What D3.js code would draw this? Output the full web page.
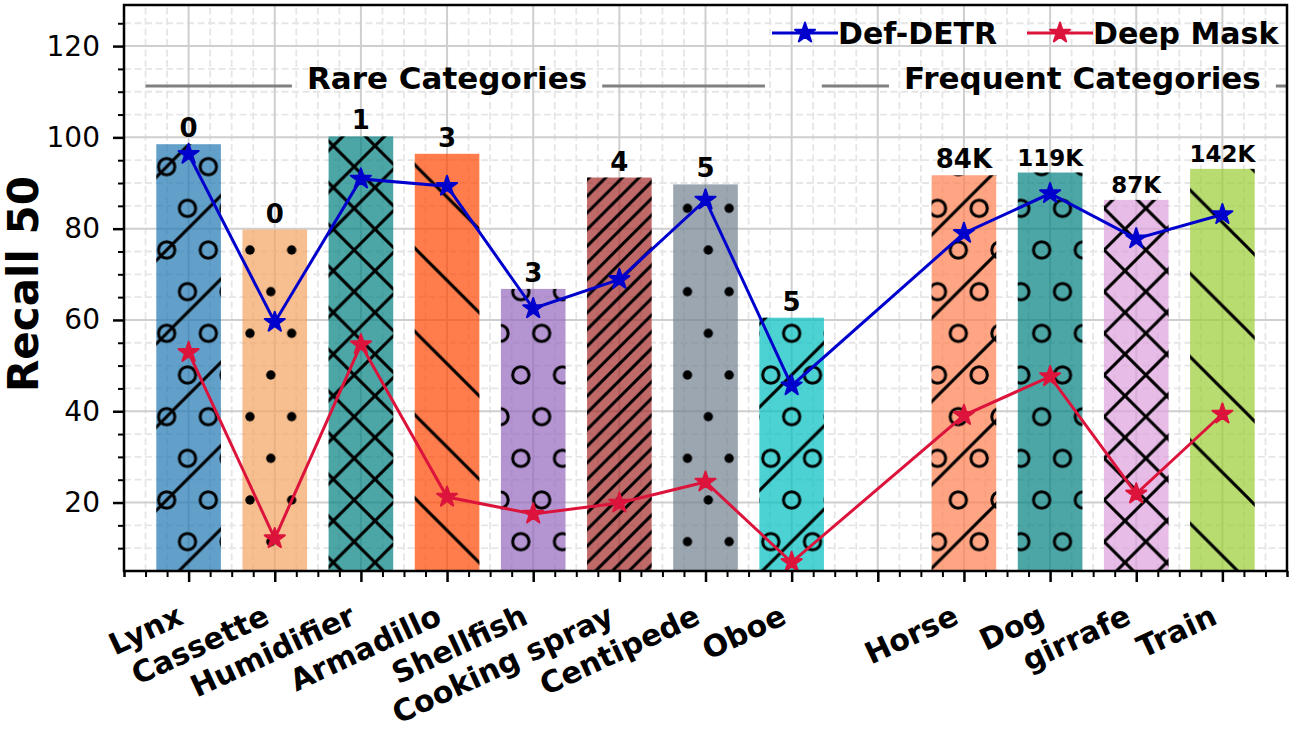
<!DOCTYPE html>
<html><head><meta charset="utf-8">
<script src="https://cdn.jsdelivr.net/npm/d3@7"></script>
<style>
body{margin:0;background:#fff;}
svg{display:block;font-family:"DejaVu Sans",sans-serif;}
</style></head><body>
<svg id="chart" width="1301" height="732"></svg>
<script>
// ---------------- data ----------------
const categories = ["Lynx","Cassette","Humidifier","Armadillo","Shellfish","Cooking spray","Centipede","Oboe","Horse","Dog","girrafe","Train"];
const barValues  = [98.5, 79.8, 100.2, 96.4, 66.8, 91.2, 89.7, 60.5, 91.7, 92.3, 86.3, 93.1];
const defDetr    = [96.3, 59.5, 90.9, 89.3, 62.5, 68.9, 86.3, 45.6, 79.0, 87.7, 77.8, 83.1];
const deepMask   = [52.9, 12.1, 54.6, 21.2, 17.5, 19.9, 24.5, 6.9, 39.1, 47.6, 21.9, 39.4];
const countLabels = ["0","0","1","3","3","4","5","5","84K","119K","87K","142K"];
const seriesNames = ["Def-DETR","Deep Mask"];
const groupNames = ["Rare Categories","Frequent Categories"];
const groupSizes = [8, 4];
const yTickValues = [20, 40, 60, 80, 100, 120];
const yLabel = "Recall 50";

// ---------------- styles ----------------
const barColors = ["#1f77b4","#F4A460","#008080","#FF4500","#9467bd","#A52A2A","#708090","#00BFBF","#FF7F50","#008080","#DDA0DD","#9ACD32"];
const barHatches = ["o/",".","x","\\","o","f","." ,"o/","o/","o","x","\\"];
const countFont = [26,26,26,26,26,26,26,26,26,23,23,23];
const seriesColors = ["#0000CD","#DC143C"];

// positions: groups separated by one empty slot
const pos = [];
groupSizes.forEach((n, g) => { for (let k = 0; k < n; k++) pos.push(pos.length + g); });

const W = 1301, H = 732;
const L = 124, R = 1287, T = 5, B = 571;
const x = d3.scaleLinear().domain([-0.75, 12.75]).range([L, R]);
const y = d3.scaleLinear().domain([5, 129]).range([B, T]);
const bw = x(0.75) - x(0);

const svg = d3.select("#chart");
svg.append("rect").attr("width", W).attr("height", H).attr("fill", "#fff");

// ---------------- hatch patterns ----------------
const defs = svg.append("defs");
const P = 83.333, S2 = 41.667;
function hatchPattern(id, h) {
  const p = defs.append("pattern").attr("id", id).attr("patternUnits", "userSpaceOnUse")
    .attr("x", 0).attr("y", 0).attr("width", P).attr("height", P);
  const g = p.append("g").attr("stroke", "#000").attr("stroke-width", 3).attr("fill", "none");
  const lattice = [];
  [0, P].forEach(yy => [0, S2, P].forEach(xx => lattice.push([xx, yy])));
  [S2 / 2, S2 * 1.5].forEach(xx => lattice.push([xx, S2]));
  if (h.includes("o")) lattice.forEach(([cx, cy]) => g.append("circle").attr("cx", cx).attr("cy", cy).attr("r", 8.2));
  if (h.includes(".")) lattice.forEach(([cx, cy]) => g.append("circle").attr("cx", cx).attr("cy", cy).attr("r", 4.7).attr("fill", "#000").attr("stroke", "none"));
  const fwd = (sp, ph) => { for (let c = ph - sp; c <= 2 * P + sp; c += sp) g.append("line").attr("x1", c + 10).attr("y1", -10).attr("x2", -10).attr("y2", c + 10); };
  const back = (sp, ph) => { for (let c = -P - sp + ph; c <= P + sp; c += sp) g.append("line").attr("x1", -10).attr("y1", c - 10).attr("x2", P + 10).attr("y2", c + P + 10); };
  if (h.includes("/")) fwd(P, 0);
  if (h.includes("f")) fwd(P / 5, 0);
  if (h.includes("\\")) back(P, 0);
  if (h.includes("x")) { fwd(S2, S2 / 2); back(S2, S2 / 2); }
}
barHatches.forEach((h, i) => hatchPattern("hatch" + i, h));

// ---------------- grid ----------------
const grid = svg.append("g");
const minorX = d3.range(-3, 52).map(k => k * 0.25).filter(v => v % 1 !== 0);
const minorY = d3.range(2, 26).map(k => k * 5).filter(v => v % 20 !== 0 && v > 5);
grid.selectAll(".mgx").data(minorX).join("line")
  .attr("x1", d => x(d)).attr("x2", d => x(d)).attr("y1", B).attr("y2", T)
  .attr("stroke", "#e6e6e6").attr("stroke-width", 1.8).attr("stroke-dasharray", "7,3.5");
grid.selectAll(".mgy").data(minorY).join("line")
  .attr("x1", L).attr("x2", R).attr("y1", d => y(d)).attr("y2", d => y(d))
  .attr("stroke", "#e6e6e6").attr("stroke-width", 1.8).attr("stroke-dasharray", "7,3.5");
const majorX = d3.range(0, 13);
grid.selectAll(".Mgx").data(majorX).join("line")
  .attr("x1", d => x(d)).attr("x2", d => x(d)).attr("y1", B).attr("y2", T)
  .attr("stroke", "#cfcfcf").attr("stroke-width", 2);
grid.selectAll(".Mgy").data(yTickValues).join("line")
  .attr("x1", L).attr("x2", R).attr("y1", d => y(d)).attr("y2", d => y(d))
  .attr("stroke", "#cfcfcf").attr("stroke-width", 2);

// ---------------- bars ----------------
const bars = svg.append("g");
bars.selectAll(".bar").data(barValues).join("rect")
  .attr("x", (d, i) => x(pos[i]) - bw / 2).attr("width", bw)
  .attr("y", d => y(d)).attr("height", d => B - y(d))
  .attr("fill", (d, i) => barColors[i]).attr("fill-opacity", 0.7);
bars.selectAll(".hat").data(barValues).join("rect")
  .attr("x", (d, i) => x(pos[i]) - bw / 2).attr("width", bw)
  .attr("y", d => y(d)).attr("height", d => B - y(d))
  .attr("fill", (d, i) => `url(#hatch${i})`);

// ---------------- group annotations ----------------
const groupCenter = [3, 10.375];
const groupSpan = [[-0.5, 6.69], [7.35, 13.5]];
const annY = y(111.25);
groupNames.forEach((name, g) => {
  const t = svg.append("text").attr("x", x(groupCenter[g])).attr("y", annY + 3.3)
    .attr("text-anchor", "middle").attr("font-weight", "bold").attr("font-size", 31).text(name);
  const wdt = t.node().getComputedTextLength();
  const x0 = x(groupCenter[g]) - wdt / 2, x1 = x(groupCenter[g]) + wdt / 2;
  svg.insert("line", "text").attr("x1", Math.max(L, x(groupSpan[g][0]))).attr("x2", x0 - 15)
    .attr("y1", annY).attr("y2", annY).attr("stroke", "#808080").attr("stroke-width", 3);
  svg.insert("line", "text").attr("x1", x1 + 15).attr("x2", Math.min(R, x(groupSpan[g][1])))
    .attr("y1", annY).attr("y2", annY).attr("stroke", "#808080").attr("stroke-width", 3);
});

// ---------------- lines ----------------
const star = d3.symbol().type(d3.symbolStar).size(125);
[defDetr, deepMask].forEach((vals, s) => {
  const line = d3.line().x((d, i) => x(pos[i])).y(d => y(d));
  svg.append("path").datum(vals).attr("d", line).attr("fill", "none")
    .attr("stroke", seriesColors[s]).attr("stroke-width", 3);
  svg.append("g").selectAll("path").data(vals).join("path")
    .attr("d", star).attr("transform", (d, i) => `translate(${x(pos[i])},${y(d)})`)
    .attr("fill", seriesColors[s]).attr("stroke", seriesColors[s]).attr("stroke-width", 2).attr("stroke-linejoin", "round");
});

// ---------------- value labels ----------------
svg.append("g").selectAll("text").data(barValues).join("text")
  .attr("x", (d, i) => x(pos[i])).attr("y", d => y(d) - 7)
  .attr("text-anchor", "middle").attr("font-weight", "bold")
  .attr("font-size", (d, i) => countFont[i]).text((d, i) => countLabels[i]);

// ---------------- legend ----------------
const legendX = [772, 1027];
seriesNames.forEach((name, s) => {
  const lg = svg.append("g").attr("transform", `translate(${legendX[s]},33)`);
  lg.append("line").attr("x1", 0).attr("x2", 66).attr("stroke", seriesColors[s]).attr("stroke-width", 3);
  lg.append("path").attr("d", star).attr("transform", "translate(33,0)")
    .attr("fill", seriesColors[s]).attr("stroke", seriesColors[s]).attr("stroke-width", 2).attr("stroke-linejoin", "round");
  lg.append("text").attr("x", 66).attr("y", 11).attr("font-weight", "bold").attr("font-size", 30).text(name);
});

// ---------------- axes ----------------
const tickLabelOf = v => { const i = pos.indexOf(v); return i >= 0 ? categories[i] : ""; };
const xAxis = svg.append("g").attr("transform", `translate(0,${B})`)
  .call(d3.axisBottom(x).tickValues(majorX).tickSize(11).tickFormat(tickLabelOf));
xAxis.select(".domain").remove();
xAxis.selectAll(".tick line").attr("stroke", "#000").attr("stroke-width", 2.5);
xAxis.selectAll(".tick text").attr("fill", "#000").attr("font-size", 30).attr("font-weight", "bold")
  .attr("font-family", "DejaVu Sans").attr("text-anchor", "end").attr("dy", null).attr("y", 0).attr("x", 0)
  .attr("transform", "translate(-4,52) rotate(-25)");
const xMinor = svg.append("g").attr("transform", `translate(0,${B})`)
  .call(d3.axisBottom(x).tickValues(minorX.concat([-0.75, 12.75])).tickSize(6).tickFormat(""));
xMinor.select(".domain").remove();
xMinor.selectAll(".tick line").attr("stroke", "#000").attr("stroke-width", 2);

const yAxis = svg.append("g").attr("transform", `translate(${L},0)`)
  .call(d3.axisLeft(y).tickValues(yTickValues).tickSize(11).tickPadding(13));
yAxis.select(".domain").remove();
yAxis.selectAll(".tick line").attr("stroke", "#000").attr("stroke-width", 2.5);
yAxis.selectAll(".tick text").attr("fill", "#000").attr("font-size", 28).attr("font-family", "DejaVu Sans");
const yMinor = svg.append("g").attr("transform", `translate(${L},0)`)
  .call(d3.axisLeft(y).tickValues(minorY).tickSize(6).tickFormat(""));
yMinor.select(".domain").remove();
yMinor.selectAll(".tick line").attr("stroke", "#000").attr("stroke-width", 2);

svg.append("rect").attr("x", L).attr("y", T).attr("width", R - L).attr("height", B - T)
  .attr("fill", "none").attr("stroke", "#000").attr("stroke-width", 2.5);

svg.append("text").attr("transform", "translate(38,284) rotate(-90)")
  .attr("text-anchor", "middle").attr("font-weight", "bold").attr("font-size", 42).text(yLabel);
</script>
</body></html>
